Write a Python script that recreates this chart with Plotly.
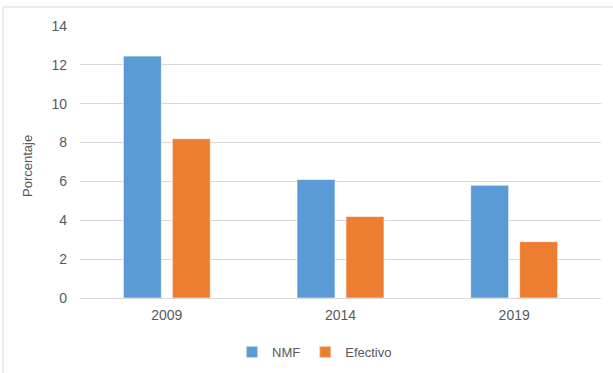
import plotly.graph_objects as go

categories = ["2009", "2014", "2019"]
nmf = [12.45, 6.1, 5.8]
efectivo = [8.2, 4.2, 2.9]
y_ticks = [0, 2, 4, 6, 8, 10, 12, 14]

FONT = "Liberation Sans, Arial, sans-serif"
TXT = "#595959"

fig = go.Figure()
fig.add_trace(go.Bar(name="NMF", x=categories, y=nmf,
                     marker=dict(color="#5B9BD5", line=dict(color="rgba(255,255,255,0.6)", width=1))))
fig.add_trace(go.Bar(name="Efectivo", x=categories, y=efectivo,
                     marker=dict(color="#ED7D31", line=dict(color="rgba(255,255,255,0.6)", width=1))))

PL, PR, PT, PB = 80, 12, 26, 75
PW, PH = 613 - PL - PR, 373 - PT - PB

fig.update_layout(
    width=613, height=373,
    margin=dict(l=PL, r=PR, t=PT, b=PB, autoexpand=False),
    paper_bgcolor="white", plot_bgcolor="white",
    barmode="group", bargap=0.436, bargroupgap=0.224,
    font=dict(family=FONT, color=TXT, size=14),
    showlegend=True,
    legend=dict(orientation="h", x=(232 - PL) / PW, xanchor="left",
                y=-(352 - (373 - PB)) / PH,
                yanchor="middle", font=dict(size=13, color=TXT),
                traceorder="normal", itemsizing="constant"),
    xaxis=dict(showgrid=False, showline=False, ticks="", tickfont=dict(size=14, color=TXT),
               ticklabelstandoff=7),
    yaxis=dict(range=[0, 14], tickvals=y_ticks, showgrid=True, gridcolor="#d9d9d9", gridwidth=1,
               zeroline=True, zerolinecolor="#d9d9d9", zerolinewidth=1, showline=False,
               ticks="", tickfont=dict(size=14, color=TXT), ticklabelstandoff=12),
    annotations=[dict(text="Porcentaje", textangle=-90, xref="paper", yref="paper",
                      x=(27 - PL) / PW, y=(373 - PB - 166) / PH, xanchor="center", yanchor="middle",
                      showarrow=False, font=dict(size=13, color=TXT))],
    shapes=[dict(type="rect", xref="paper", yref="paper",
                 x0=(3 - PL) / PW, x1=1.1, y0=-0.5, y1=1 + (PT - 7) / PH,
                 line=dict(color="#d9d9d9", width=1), fillcolor="rgba(0,0,0,0)", layer="below")],
)

fig.write_html("out.html")
